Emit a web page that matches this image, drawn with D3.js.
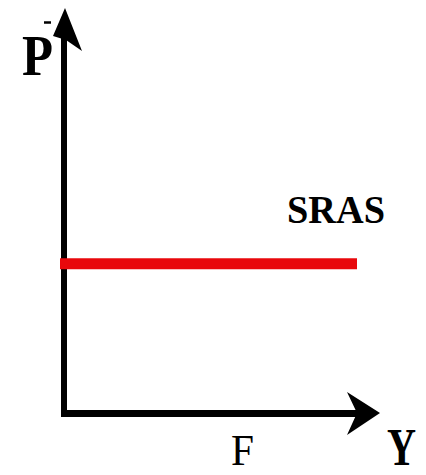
<!DOCTYPE html>
<html>
<head>
<meta charset="utf-8">
<script src="https://cdn.jsdelivr.net/npm/d3@7"></script>
<style>
  html, body { margin: 0; padding: 0; background: #fff; }
  svg { display: block; }
  text { font-family: "Liberation Serif", "DejaVu Serif", serif; fill: #000; }
</style>
</head>
<body>
<div id="chart"></div>
<script>
// axis and curve labels
var axisNames = ["Y", "P"];
var tickLabels = ["F"];
var curveNames = ["SRAS"];
// SRAS: horizontal line at the fixed price level
var srasY = [0, 10];
var srasP = [3.83, 3.83];

var width = 426, height = 475;
var svg = d3.select("#chart").append("svg")
    .attr("width", width)
    .attr("height", height);
svg.append("rect").attr("width", width).attr("height", height).attr("fill", "#fff");

// scales
var x = d3.scaleLinear().domain([0, 10]).range([60, 357]);
var y = d3.scaleLinear().domain([0, 10]).range([417, 17]);

// axes
var axes = svg.append("g").attr("class", "axes");
axes.append("line")
    .attr("x1", x(0) + 4).attr("y1", y(0))
    .attr("x2", x(0) + 4).attr("y2", 38)
    .attr("stroke", "#000").attr("stroke-width", 6);
axes.append("line")
    .attr("x1", x(0) + 1).attr("y1", y(0) - 3.5)
    .attr("x2", 358).attr("y2", y(0) - 3.5)
    .attr("stroke", "#000").attr("stroke-width", 7);
// arrow heads
axes.append("path")
    .attr("d", "M65,8 L82,51 L66,40 L53,36 Z")
    .attr("fill", "#000");
axes.append("path")
    .attr("d", "M380,413 L347,435 L357,413 L347,392 Z")
    .attr("fill", "#000");

// SRAS line, drawn over the price axis
var line = d3.line()
    .x(function (d) { return x(d[0]); })
    .y(function (d) { return y(d[1]); });
svg.append("path")
    .datum(srasY.map(function (v, i) { return [v, srasP[i]]; }))
    .attr("d", line)
    .attr("fill", "none")
    .attr("stroke", "#e8080c")
    .attr("stroke-width", 11);

// labels
svg.append("text")
    .attr("x", 22).attr("y", 75)
    .attr("font-size", 56).attr("font-weight", "bold")
    .attr("textLength", 31).attr("lengthAdjust", "spacingAndGlyphs")
    .text(axisNames[1]);
// bar over P
svg.append("line")
    .attr("x1", 44).attr("y1", 22.5).attr("x2", 51).attr("y2", 22.5)
    .attr("stroke", "#000").attr("stroke-width", 2.5);
svg.append("text")
    .attr("x", 387).attr("y", 465)
    .attr("font-size", 53).attr("font-weight", "bold")
    .attr("textLength", 29).attr("lengthAdjust", "spacingAndGlyphs")
    .text(axisNames[0]);
svg.append("text")
    .attr("x", 231).attr("y", 465)
    .attr("font-size", 44)
    .attr("textLength", 23).attr("lengthAdjust", "spacingAndGlyphs")
    .text(tickLabels[0]);
svg.append("text")
    .attr("x", 287).attr("y", 223)
    .attr("font-size", 39).attr("font-weight", "bold")
    .attr("textLength", 98).attr("lengthAdjust", "spacingAndGlyphs")
    .text(curveNames[0]);
</script>
</body>
</html>
